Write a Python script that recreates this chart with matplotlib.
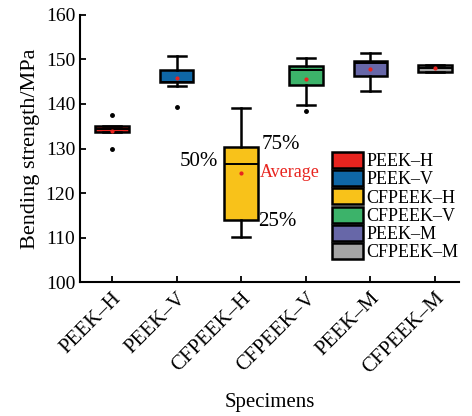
import matplotlib
matplotlib.use("Agg")
import matplotlib.pyplot as plt
from matplotlib.patches import Patch

plt.rcParams['font.family'] = ['Liberation Serif', 'DejaVu Serif']
plt.rcParams['mathtext.fontset'] = 'stix'

categories = ["PEEK\u2013H", "PEEK\u2013V", "CFPEEK\u2013H", "CFPEEK\u2013V", "PEEK\u2013M", "CFPEEK\u2013M"]
colors = ["#E8241F", "#0F67A6", "#F8C21A", "#3CB36A", "#6767A8", "#A5A5A5"]
q1 = [133.6, 144.9, 113.9, 144.3, 146.2, 147.3]
median = [134.3, 145.0, 126.5, 147.6, 149.2, 148.0]
q3 = [135.1, 147.6, 130.4, 148.5, 149.7, 148.7]
whislo = [133.6, 144.1, 110.2, 139.8, 142.9, 147.3]
whishi = [135.1, 150.7, 139.2, 150.4, 151.5, 148.7]
means = [134.0, 145.8, 124.5, 145.7, 147.9, 148.1]
fliers = [[137.6, 129.8], [139.4], [], [138.4], [], []]

yticks = [100, 110, 120, 130, 140, 150, 160]

fig = plt.figure(figsize=(4.72, 4.16), dpi=100)
ax = fig.add_axes([0.1695, 0.322, 0.803, 0.642])

stats = []
for i, c in enumerate(categories):
    stats.append(dict(label=c, q1=q1[i], med=median[i], q3=q3[i],
                      whislo=whislo[i], whishi=whishi[i], mean=means[i],
                      fliers=fliers[i]))

bp = ax.bxp(stats, positions=range(1, 7), widths=0.52, patch_artist=True,
            showmeans=True, showfliers=True,
            boxprops=dict(edgecolor='black', linewidth=1.8),
            medianprops=dict(color='black', linewidth=1.4),
            whiskerprops=dict(color='black', linewidth=1.8),
            capprops=dict(color='black', linewidth=1.8),
            capwidths=0.28,
            meanprops=dict(marker='o', markersize=2, markerfacecolor='#E8241F',
                           markeredgecolor='#E8241F'),
            flierprops=dict(marker='o', markersize=2.5, markerfacecolor='black',
                            markeredgecolor='black'))
for patch, col in zip(bp['boxes'], colors):
    patch.set_facecolor(col)

ax.set_xlim(0.505, 6.37)
ax.set_ylim(100, 160)
ax.set_yticks(yticks)
ax.set_xticks(range(1, 7))
ax.set_xticklabels(categories, rotation=45, ha='right', rotation_mode='anchor', fontsize=15)
ax.tick_params(axis='y', labelsize=14, direction='in', length=4, width=1.3)
ax.tick_params(axis='x', direction='in', length=4, width=1.3, pad=5)
ax.spines['top'].set_visible(False)
ax.spines['right'].set_visible(False)
ax.spines['left'].set_linewidth(1.5)
ax.spines['bottom'].set_linewidth(1.5)

ax.set_ylabel("Bending strength/MPa", fontsize=16, labelpad=4)
ax.set_xlabel("Specimens", fontsize=15, labelpad=11)

ax.text(3.32, 130.8, "75%", fontsize=15, va='center', ha='left')
ax.text(2.64, 127.0, "50%", fontsize=15, va='center', ha='right')
ax.text(3.29, 124.7, "Average", fontsize=13, va='center', ha='left', color='#E8241F')
ax.text(3.26, 113.5, "25%", fontsize=15, va='center', ha='left')

handles = [Patch(facecolor=c, edgecolor='black', linewidth=1.8) for c in colors]
fig.legend(handles, categories, loc='upper left', bbox_to_anchor=(0.684, 0.657),
           frameon=False, fontsize=13, handlelength=1.75, handleheight=1.0,
           handletextpad=0.15, labelspacing=0.0, borderpad=0.0)

fig.savefig("out.png", dpi=100)
